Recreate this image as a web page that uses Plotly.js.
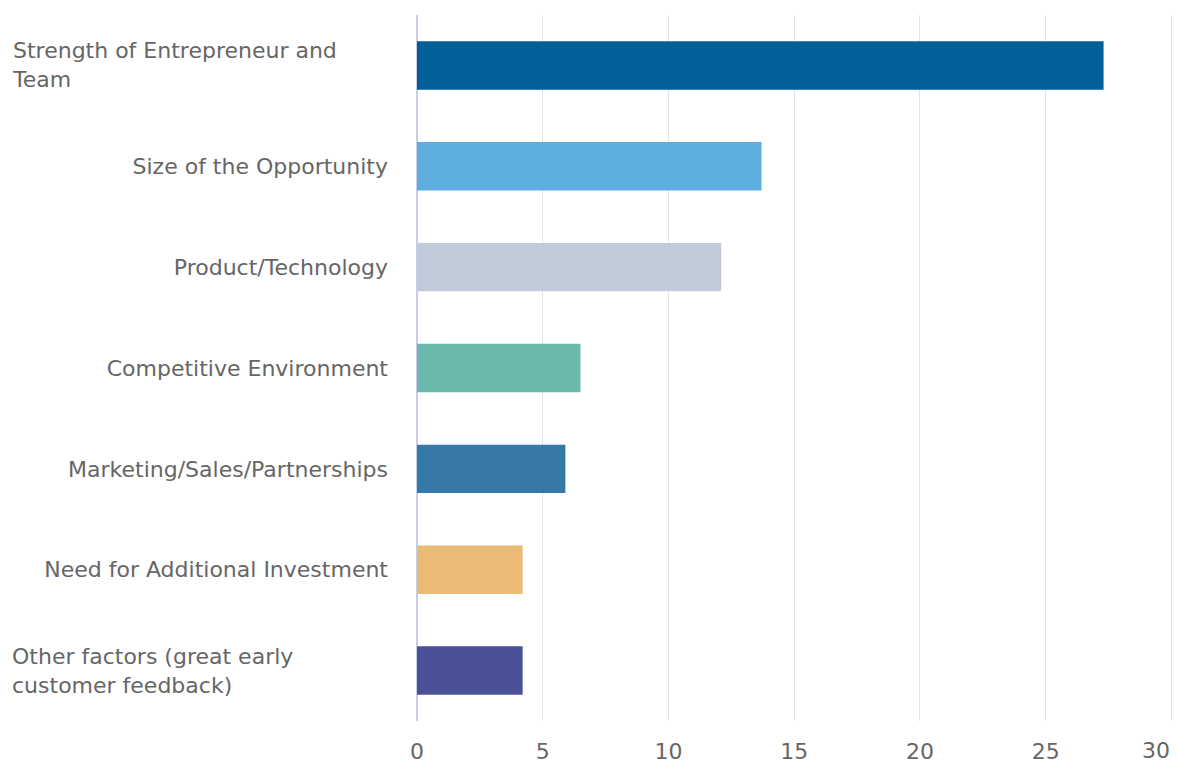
<!DOCTYPE html>
<html>
<head>
<meta charset="utf-8">
<script src="https://cdn.plot.ly/plotly-3.0.1.min.js"></script>
<style>
html,body{margin:0;padding:0;background:#fff;}
#chart{width:1178px;height:763px;}
</style>
</head>
<body>
<div id="chart"></div>
<script>
const categories = [
  "Strength of Entrepreneur and Team",
  "Size of the Opportunity",
  "Product/Technology",
  "Competitive Environment",
  "Marketing/Sales/Partnerships",
  "Need for Additional Investment",
  "Other factors (great early customer feedback)"
];
const wrappedLabels = [
  "Strength of Entrepreneur and<br>Team",
  null, null, null, null, null,
  "Other factors (great early<br>customer feedback)"
];
const values = [27.3, 13.7, 12.1, 6.5, 5.9, 4.2, 4.2];
const barColors = ["#025f98", "#5daedf", "#c1cad9", "#6bb8ac", "#3679a6", "#e9bb75", "#4b5196"];
const xTicks = [0, 5, 10, 15, 20, 25, 30];
const xTickLabels = ["0", "5", "10", "15", "20", "25", "30"];

const fontFamily = "DejaVu Sans";
const fontSize = 22;
const textColor = "#666666";
const xRange = [0, 30.1];

const tickText = categories.map((c, i) => wrappedLabels[i] ? "" : c);
// the last x tick label is drawn right-aligned to its gridline so it stays inside the page
const lastIdx = xTicks.length - 1;
const mainTickText = xTickLabels.map((t, i) => i === lastIdx ? "" : t);

const annotations = [];
wrappedLabels.forEach((lab, i) => {
  if (lab) {
    annotations.push({
      xref: "paper", yref: "y",
      x: -0.537, y: categories[i],
      xanchor: "left", yanchor: "middle",
      align: "left",
      text: lab,
      showarrow: false,
      font: {family: fontFamily, size: fontSize, color: textColor}
    });
  }
});
annotations.push({
  xref: "x", yref: "paper",
  x: xTicks[lastIdx], y: 0,
  xanchor: "right", yanchor: "top",
  yshift: -15, xshift: 1,
  text: xTickLabels[lastIdx],
  showarrow: false,
  font: {family: fontFamily, size: fontSize, color: textColor}
});

const trace = {
  type: "bar",
  orientation: "h",
  x: values,
  y: categories,
  marker: {color: barColors},
  hoverinfo: "x+y"
};

const layout = {
  width: 1178, height: 763,
  margin: {l: 417, r: 4, t: 15, b: 42},
  paper_bgcolor: "#ffffff",
  plot_bgcolor: "#ffffff",
  bargap: 0.52,
  showlegend: false,
  font: {family: fontFamily, size: fontSize, color: textColor},
  xaxis: {
    range: xRange,
    tickvals: xTicks,
    ticktext: mainTickText,
    showgrid: true,
    gridcolor: "#e4e4e4",
    gridwidth: 1,
    zeroline: true,
    zerolinecolor: "#c8cde8",
    zerolinewidth: 2,
    showline: false,
    ticks: "",
    ticklabelstandoff: 15,
    tickfont: {family: fontFamily, size: fontSize, color: textColor},
    fixedrange: true
  },
  yaxis: {
    type: "category",
    autorange: "reversed",
    tickvals: categories,
    ticktext: tickText,
    showgrid: false,
    zeroline: false,
    showline: false,
    ticks: "",
    ticklabelstandoff: 28,
    tickfont: {family: fontFamily, size: fontSize, color: textColor},
    fixedrange: true
  },
  annotations: annotations
};

Plotly.newPlot("chart", [trace], layout, {displayModeBar: false, staticPlot: true});
</script>
</body>
</html>
